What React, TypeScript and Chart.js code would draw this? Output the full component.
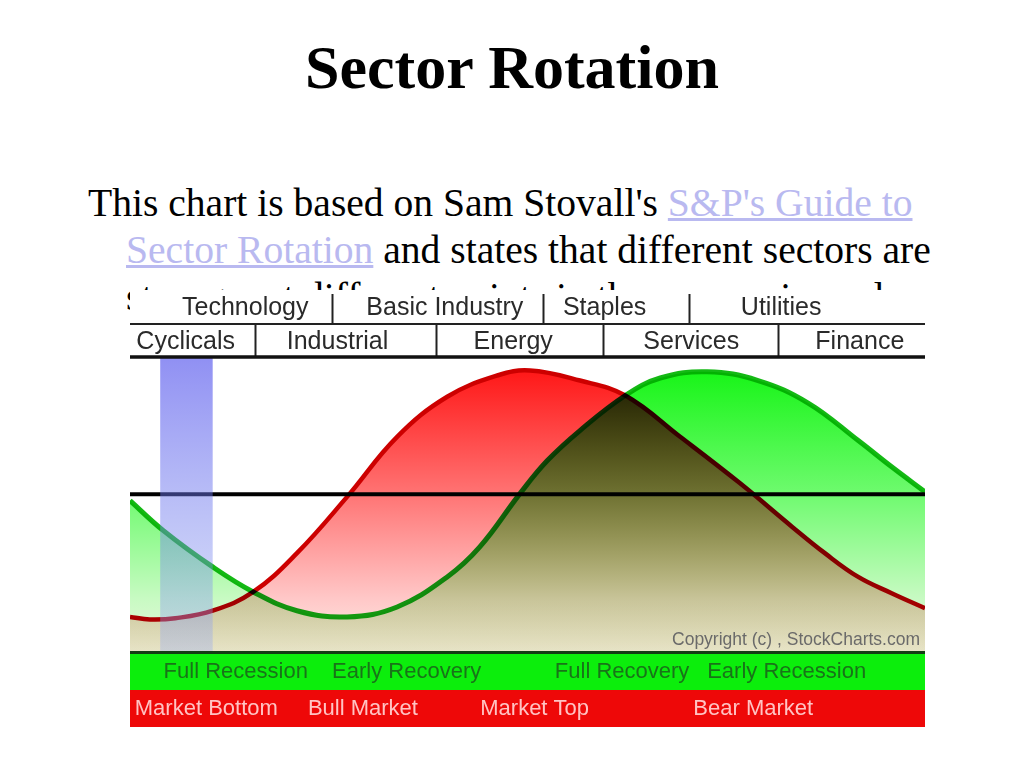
import React, { useEffect, useRef } from 'react';
import { Chart, registerables } from 'chart.js';

Chart.register(...registerables);

// Cycle position (0-100) and relative strength (-1..1)
const marketPosition = [0, 2.5, 5.7, 10.4, 15.5, 21.0, 27.3, 33.6, 39.9, 46.2, 50.3, 56.6, 62.3, 69.2, 76.7, 83.3, 87.4, 91.6, 95.8, 100];
const marketStrength = [-0.98, -1.0, -0.99, -0.93, -0.78, -0.47, -0.02, 0.46, 0.78, 0.95, 0.99, 0.91, 0.79, 0.46, 0.09, -0.26, -0.47, -0.66, -0.79, -0.91];

const economyPosition = [0, 4.2, 10.4, 15.5, 21.0, 27.3, 33.6, 39.9, 44.0, 49.1, 52.5, 56.6, 62.3, 66.7, 72.6, 79.0, 85.3, 91.6, 95.8, 100];
const economyStrength = [-0.05, -0.29, -0.58, -0.78, -0.93, -0.98, -0.9, -0.66, -0.42, 0.01, 0.27, 0.51, 0.79, 0.93, 0.98, 0.91, 0.73, 0.43, 0.22, 0.02];

const topSectors = ['Technology', 'Basic Industry', 'Staples', 'Utilities'];
const topSectorCenters = [14.5, 39.6, 59.7, 81.9];
const topSectorDividers = [25.4, 51.9, 70.3];

const lowerSectors = ['Cyclicals', 'Industrial', 'Energy', 'Services', 'Finance'];
const lowerSectorCenters = [7.0, 26.1, 48.2, 70.6, 91.8];
const lowerSectorDividers = [15.7, 38.5, 59.5, 81.5];

const economyPhases = ['Full Recession', 'Early Recovery', 'Full Recovery', 'Early Recession'];
const economyPhaseCenters = [13.3, 34.8, 61.9, 82.6];

const marketPhases = ['Market Bottom', 'Bull Market', 'Market Top', 'Bear Market'];
const marketPhaseCenters = [9.6, 29.3, 50.9, 78.4];

const highlightBand = [3.8, 10.4];
const copyrightText = 'Copyright (c) , StockCharts.com';

const toPoints = (xs: number[], ys: number[]) => xs.map((x, i) => ({ x, y: ys[i] }));

const gradientFill = (stops: [number, string][]) => (c: any) => {
  const chart = c.chart;
  const area = chart.chartArea;
  if (!area) return 'rgba(0,0,0,0)';
  const g = chart.ctx.createLinearGradient(0, area.top, 0, area.bottom);
  stops.forEach(([o, col]) => g.addColorStop(o, col));
  return g;
};

const rotationPlugin = {
  id: 'rotationDecor',
  beforeDraw(chart: any) {
    const { ctx, width, height } = chart;
    ctx.save();
    ctx.globalCompositeOperation = 'source-over';
    ctx.fillStyle = '#ffffff';
    ctx.fillRect(0, 0, width, height);
    ctx.restore();
    ctx.globalCompositeOperation = 'multiply';
  },
  afterDatasetsDraw(chart: any) {
    const { ctx, chartArea, width, height } = chart;
    const xs = chart.scales.x;
    ctx.globalCompositeOperation = 'source-over';
    ctx.save();
    // highlight band
    const bx0 = xs.getPixelForValue(highlightBand[0]);
    const bx1 = xs.getPixelForValue(highlightBand[1]);
    const bg = ctx.createLinearGradient(0, chartArea.top, 0, chartArea.bottom);
    bg.addColorStop(0, 'rgba(70,70,235,0.6)');
    bg.addColorStop(1, 'rgba(150,170,240,0.35)');
    ctx.fillStyle = bg;
    ctx.fillRect(bx0, chartArea.top, bx1 - bx0, chartArea.bottom - chartArea.top);

    // top rows
    const rowTop = 0;
    const rowMid = 34;
    const rowBottom = chartArea.top;
    ctx.strokeStyle = '#222';
    ctx.lineWidth = 2;
    ctx.beginPath();
    ctx.moveTo(0, rowMid);
    ctx.lineTo(width, rowMid);
    ctx.stroke();
    topSectorDividers.forEach((d) => {
      const px = Math.round(xs.getPixelForValue(d)) + 0.5;
      ctx.beginPath();
      ctx.moveTo(px, rowTop + 4);
      ctx.lineTo(px, rowMid);
      ctx.stroke();
    });
    lowerSectorDividers.forEach((d) => {
      const px = Math.round(xs.getPixelForValue(d)) + 0.5;
      ctx.beginPath();
      ctx.moveTo(px, rowMid);
      ctx.lineTo(px, rowBottom);
      ctx.stroke();
    });
    ctx.strokeStyle = '#111';
    ctx.lineWidth = 3.5;
    ctx.beginPath();
    ctx.moveTo(0, rowBottom - 1);
    ctx.lineTo(width, rowBottom - 1);
    ctx.stroke();

    ctx.fillStyle = '#2a2a2a';
    ctx.font = '25px "Liberation Sans", Arial, sans-serif';
    ctx.textAlign = 'center';
    ctx.textBaseline = 'middle';
    topSectors.forEach((s, i) => ctx.fillText(s, xs.getPixelForValue(topSectorCenters[i]), 18));
    lowerSectors.forEach((s, i) => ctx.fillText(s, xs.getPixelForValue(lowerSectorCenters[i]), 52));

    // copyright
    ctx.fillStyle = '#6a6a6a';
    ctx.font = '17.5px "Liberation Sans", Arial, sans-serif';
    ctx.textAlign = 'right';
    ctx.fillText(copyrightText, width - 5, chartArea.bottom - 12);

    // bottom bars
    const gTop = chartArea.bottom + 2;
    const rTop = gTop + 36;
    ctx.fillStyle = 'rgb(12,238,12)';
    ctx.fillRect(0, gTop, width, rTop - gTop);
    ctx.fillStyle = 'rgb(238,8,8)';
    ctx.fillRect(0, rTop, width, height - rTop);
    ctx.fillStyle = 'rgb(20,60,20)';
    ctx.fillRect(0, chartArea.bottom - 1, width, 3);

    ctx.textAlign = 'center';
    ctx.font = '22px "Liberation Sans", Arial, sans-serif';
    ctx.fillStyle = 'rgb(25,115,25)';
    economyPhases.forEach((s, i) => ctx.fillText(s, xs.getPixelForValue(economyPhaseCenters[i]), gTop + 18));
    ctx.fillStyle = 'rgb(255,195,195)';
    marketPhases.forEach((s, i) => ctx.fillText(s, xs.getPixelForValue(marketPhaseCenters[i]), rTop + 19));
    ctx.restore();
  },
};

function SectorChart() {
  const ref = useRef<HTMLCanvasElement | null>(null);
  useEffect(() => {
    if (!ref.current) return;
    const chart = new Chart(ref.current, {
      type: 'line',
      data: {
        datasets: [
          {
            label: 'Market',
            data: toPoints(marketPosition, marketStrength),
            borderColor: 'rgb(205,0,0)',
            borderWidth: 4.5,
            pointRadius: 0,
            tension: 0.4,
            fill: 'start',
            backgroundColor: gradientFill([
              [0, 'rgb(255,20,20)'],
              [0.05, 'rgb(255,25,25)'],
              [0.46, 'rgb(255,115,115)'],
              [0.82, 'rgb(255,200,200)'],
              [1, 'rgb(252,236,228)'],
            ]),
          },
          {
            label: 'Economy',
            data: toPoints(economyPosition, economyStrength),
            borderColor: 'rgb(20,185,20)',
            borderWidth: 5,
            pointRadius: 0,
            tension: 0.4,
            fill: 'start',
            backgroundColor: gradientFill([
              [0, 'rgb(20,245,20)'],
              [0.05, 'rgb(25,245,25)'],
              [0.46, 'rgb(110,250,110)'],
              [0.82, 'rgb(200,250,195)'],
              [1, 'rgb(234,246,222)'],
            ]),
          },
          {
            label: 'Baseline',
            data: [
              { x: 0, y: 0 },
              { x: 100, y: 0 },
            ],
            borderColor: '#000',
            borderWidth: 4,
            pointRadius: 0,
            fill: false,
          },
        ],
      },
      options: {
        animation: false,
        responsive: false,
        maintainAspectRatio: false,
        devicePixelRatio: 1,
        layout: { padding: { top: 68, bottom: 75, left: 0, right: 0 } },
        plugins: { legend: { display: false }, tooltip: { enabled: false } },
        scales: {
          x: { type: 'linear', min: 0, max: 100, display: false },
          y: { type: 'linear', min: -1.26, max: 1.09, display: false },
        },
      } as any,
      plugins: [rotationPlugin],
    });
    return () => chart.destroy();
  }, []);
  return (
    <canvas
      ref={ref}
      width={795}
      height={437}
      style={{ position: 'absolute', left: 130, top: 290, width: 795, height: 437 }}
    />
  );
}

export default function App() {
  const link = { color: 'rgb(185,185,240)', textDecoration: 'underline' };
  return (
    <div style={{ position: 'absolute', left: 0, top: 0, width: 1024, height: 768, background: '#fff', overflow: 'hidden' }}>
      <div
        style={{
          position: 'absolute',
          left: 0,
          top: 36,
          width: 1024,
          textAlign: 'center',
          font: 'bold 62px "Liberation Serif", "Times New Roman", serif',
          lineHeight: '62px',
          color: '#000',
        }}
      >
        Sector Rotation
      </div>
      <div
        style={{
          position: 'absolute',
          left: 126,
          top: 180,
          textIndent: -38,
          whiteSpace: 'nowrap',
          font: '39.6px "Liberation Serif", "Times New Roman", serif',
          lineHeight: '47px',
          color: '#000',
        }}
      >
        This chart is based on Sam Stovall's <span style={link}>S&amp;P's Guide to</span>
        <br />
        <span style={link}>Sector Rotation</span> and states that different sectors are
        <br />
        stronger at different points in the economic cycle
      </div>
      <SectorChart />
    </div>
  );
}
